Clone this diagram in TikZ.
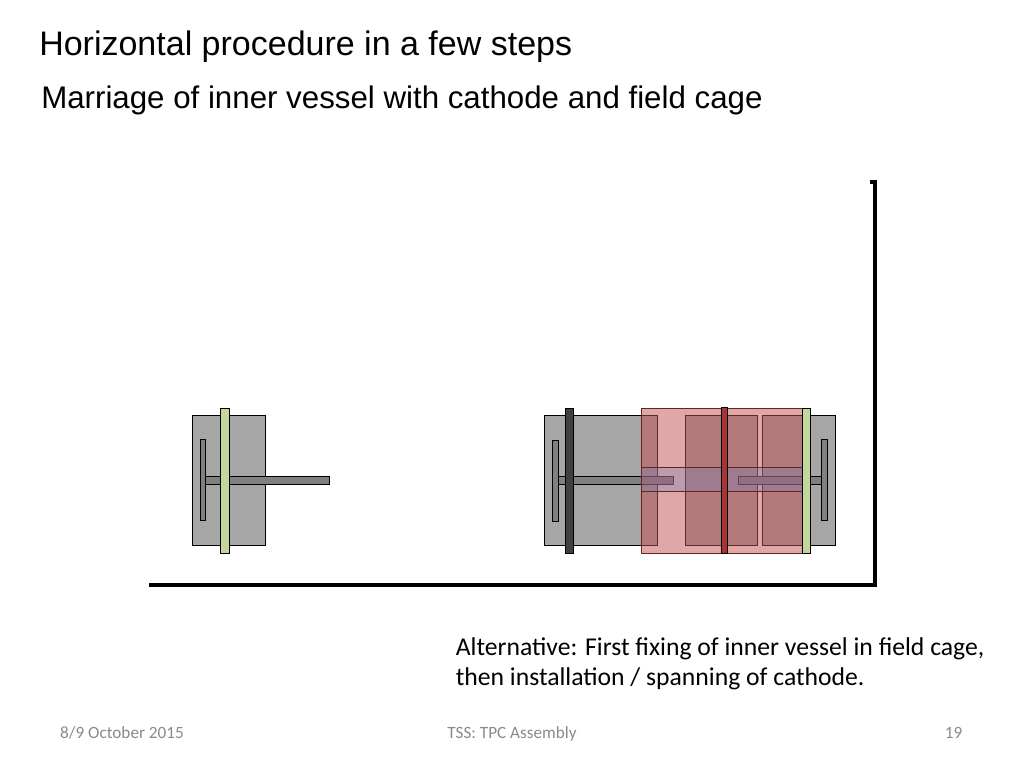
\documentclass[tikz,border=0pt]{standalone}
\usepackage{fontspec}
\setmainfont{Liberation Sans}
\newfontfamily\bodyfont{Carlito}
\definecolor{graybox}{HTML}{A6A6A6}
\definecolor{rodgray}{HTML}{808080}
\definecolor{platedark}{HTML}{404040}
\definecolor{plategreen}{HTML}{C3D69B}
\definecolor{cagered}{HTML}{C0504D}
\definecolor{edgered}{HTML}{632523}
\definecolor{bandblue}{HTML}{6F7FC0}
\definecolor{redplate}{HTML}{A83434}
\definecolor{foot}{HTML}{8A8A8A}
\tikzset{
  x=0.75pt,y=-0.75pt,
  part/.style={draw=black,line width=0.7pt},
  graypart/.style={part,fill=graybox},
  rod/.style={part,fill=rodgray},
  cagepart/.style={draw=edgered,line width=0.7pt,fill=cagered,fill opacity=0.5},
  bandpart/.style={draw=edgered,line width=0.7pt,fill=bandblue,fill opacity=0.3},
  axisline/.style={draw=black,line width=2.3pt},
  titletext/.style={anchor=base west,inner sep=0pt,font=\fontsize{25.5}{30}\selectfont},
  subtext/.style={anchor=base west,inner sep=0pt,font=\fontsize{23.45}{28}\selectfont},
  noteText/.style={anchor=base west,inner sep=0pt,font=\bodyfont\fontsize{19.25}{23}\selectfont},
  foottext/.style={anchor=base,inner sep=0pt,text=foot,font=\bodyfont\fontsize{12.9}{15}\selectfont},
}
\begin{document}
\begin{tikzpicture}
\useasboundingbox (0,0) rectangle (1024,768);
% left assembly
\draw[graypart] (192,415.5) rectangle (265,545);
\draw[rod] (205.5,476) rectangle (329,484.5);
\draw[rod] (200,439.5) rectangle (205.5,520.5);
\draw[part,fill=plategreen] (220.5,408) rectangle (229,553);
% right assembly, grey parts
\draw[graypart] (544,415.5) rectangle (657,545);
\draw[graypart] (810,415.5) rectangle (835,545);
\draw[graypart] (685,415.5) rectangle (757.5,545);
\draw[graypart] (762,415.5) rectangle (802.5,545);
\draw[rod] (558,476) rectangle (673.5,484.5);
\draw[rod] (552,440) rectangle (558,521);
\draw[rod] (738,476) rectangle (821.5,484.5);
\draw[rod] (821.5,439.5) rectangle (827,520.5);
\draw[part,fill=platedark] (565,408) rectangle (573.5,553);
% field cage
\draw[cagepart] (641,408) rectangle (802.5,553);
\draw[bandpart] (641,467.5) rectangle (802.5,491.5);
\draw[part,fill=plategreen] (802.5,408) rectangle (810.5,553);
\draw[part,fill=redplate] (721.5,407) rectangle (727,553);
% axes
\coordinate (axA) at (870,182);
\coordinate (axB) at (875,182);
\coordinate (axC) at (875,585);
\coordinate (axD) at (149,585);
\draw[axisline,line cap=butt,line join=miter] (axA) -- (axB) -- (axC) -- (axD);
% text
\node[titletext] (title) at (39,55) {Horizontal procedure in a few steps};
\node[subtext] (subtitle) at (41,108) {Marriage of inner vessel with cathode and field cage};
\node[noteText] (noteA) at (455.5,655) {Alternative: First fixing of inner vessel in field cage,};
\node[noteText] (noteB) at (455.5,685) {then installation / spanning of cathode.};
\node[foottext] (date) at (122,738) {8/9 October 2015};
\node[foottext] (conf) at (512,738) {TSS: TPC Assembly};
\node[foottext] (page) at (953.5,738) {19};
\end{tikzpicture}
\end{document}
